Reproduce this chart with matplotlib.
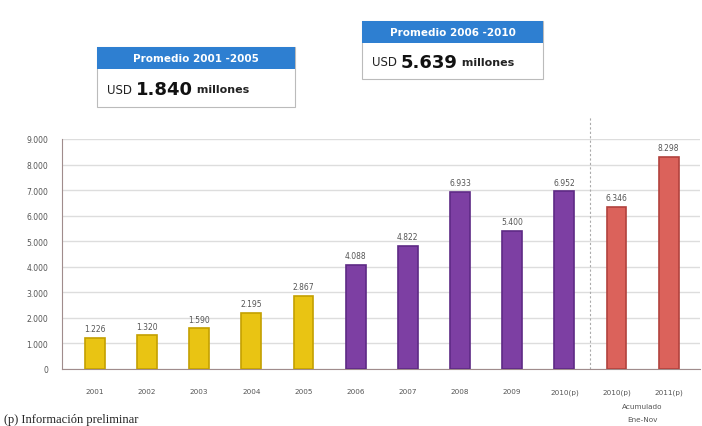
import matplotlib
matplotlib.use("Agg")
import matplotlib.pyplot as plt
from matplotlib.patches import Rectangle

categories = ["2001", "2002", "2003", "2004", "2005", "2006", "2007", "2008",
              "2009", "2010(p)", "2010(p)", "2011(p)"]
values = [1226, 1320, 1590, 2195, 2867, 4088, 4822, 6933, 5400, 6952, 6346, 8298]
value_labels = ["1.226", "1.320", "1.590", "2.195", "2.867", "4.088", "4.822",
                "6.933", "5.400", "6.952", "6.346", "8.298"]
groups = ["a"] * 5 + ["b"] * 5 + ["c"] * 2
yticks = [0, 1000, 2000, 3000, 4000, 5000, 6000, 7000, 8000, 9000]
ytick_labels = ["0", "1.000", "2.000", "3.000", "4.000", "5.000", "6.000",
                "7.000", "8.000", "9.000"]

fill = {"a": "#E9C413", "b": "#7D3FA3", "c": "#DB625B"}
edge = {"a": "#C4A000", "b": "#5E2A85", "c": "#B2423D"}

W, H = 702, 427
fig = plt.figure(figsize=(W / 100, H / 100), dpi=100)
fig.patch.set_facecolor("white")

def fx(px):
    return px / W

def fy(py):
    return 1 - py / H

ax = fig.add_axes([fx(62), fy(370), fx(700) - fx(62), fy(140) - fy(370)])
x = list(range(len(categories)))
ax.bar(x, values, width=0.38, color=[fill[g] for g in groups],
       edgecolor=[edge[g] for g in groups], linewidth=1.2, zorder=3)
for xi, v, lab in zip(x, values, value_labels):
    ax.text(xi, v + 180, lab, ha="center", va="bottom", fontsize=5.5,
            color="#555555", zorder=4, clip_on=False)

ax.set_xlim(-0.63, 11.6)
ax.set_ylim(0, 9000)
ax.set_yticks(yticks)
ax.set_yticklabels(ytick_labels, fontsize=5.5, color="#555555")
ax.set_xticks(x)
ax.set_xticklabels(categories, fontsize=5.2, color="#555555")
ax.tick_params(axis="both", length=0, pad=14)
ax.tick_params(axis="y", pad=10)
ax.grid(axis="y", color="#DDDDDD", linewidth=1.0, zorder=0)
for s in ["top", "right"]:
    ax.spines[s].set_visible(False)
ax.spines["left"].set_color("#A08C8C")
ax.spines["bottom"].set_color("#A08C8C")
ax.axvline(9.5, ymin=0, ymax=1.1, color="#AAAAAA", linestyle=(0, (2, 2)),
           linewidth=0.8, clip_on=False, zorder=2)

fig.text(fx(642), fy(407), "Acumulado", ha="center", va="center",
         fontsize=5.2, color="#555555")
fig.text(fx(642), fy(420), "Ene-Nov", ha="center", va="center",
         fontsize=5.2, color="#555555")
fig.text(fx(4), fy(420), "(p) Información preliminar", ha="left", va="center",
         fontsize=9, family="Liberation Serif", color="#222222")

def box(x0, x1, yh0, yh1, yb1, title, num):
    fig.patches.append(Rectangle((fx(x0), fy(yb1)), fx(x1) - fx(x0), fy(yh0) - fy(yb1),
                                 transform=fig.transFigure, facecolor="white",
                                 edgecolor="#BBBBBB", linewidth=0.8))
    fig.patches.append(Rectangle((fx(x0), fy(yh1)), fx(x1) - fx(x0), fy(yh0) - fy(yh1),
                                 transform=fig.transFigure, facecolor="#2E7FD1",
                                 edgecolor="none"))
    cx = (x0 + x1) / 2
    fig.text(fx(cx), fy((yh0 + yh1) / 2), title, ha="center", va="center",
             fontsize=7.5, color="white", weight="bold")
    yb = fy((yh1 + yb1) / 2 + 1)
    t1 = fig.text(fx(x0 + 10), yb, "USD ", ha="left", va="center", fontsize=8.5,
                  color="#222222")
    t2 = fig.text(fx(x0 + 10), yb, num, ha="left", va="center", fontsize=13,
                  color="#111111", weight="bold")
    t3 = fig.text(fx(x0 + 10), yb, " millones", ha="left", va="center", fontsize=8,
                  color="#222222", weight="bold")
    return t1, t2, t3

b1 = box(97, 295, 48, 70, 108, "Promedio 2001 -2005", "1.840")
b2 = box(362, 543, 22, 44, 80, "Promedio 2006 -2010", "5.639")

fig.canvas.draw()
r = fig.canvas.get_renderer()
for t1, t2, t3 in (b1, b2):
    e1 = t1.get_window_extent(r)
    t2.set_x(e1.x1 / W)
    e2 = t2.get_window_extent(r)
    t3.set_x(e2.x1 / W)

fig.savefig("out.png", dpi=100, facecolor="white")
